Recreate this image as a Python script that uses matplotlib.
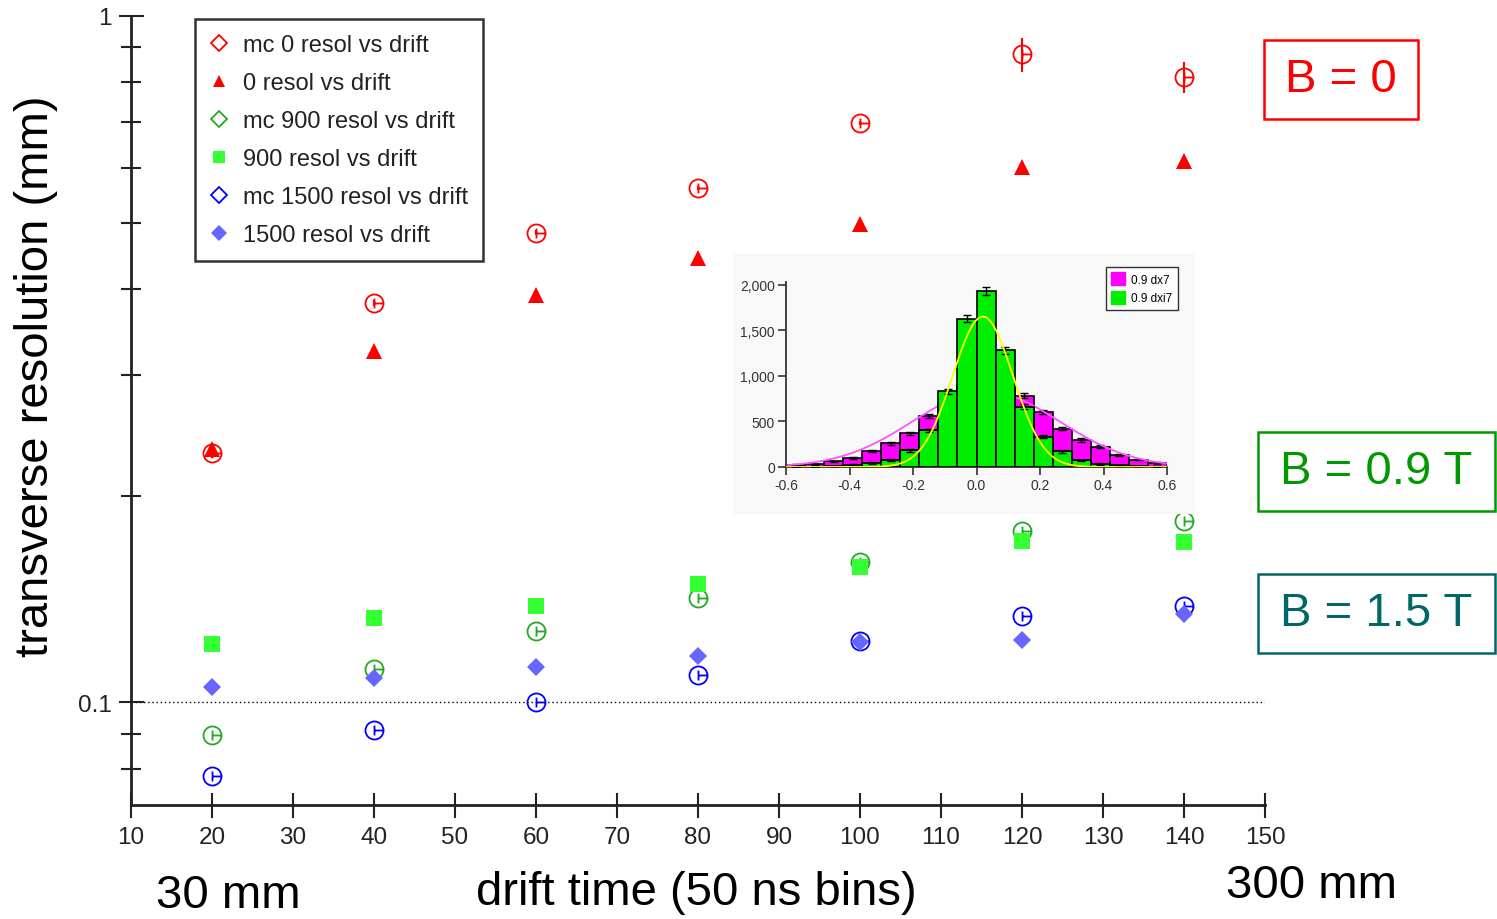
import numpy as np
import matplotlib
matplotlib.use("Agg")
import matplotlib.pyplot as plt
from matplotlib.path import Path
from matplotlib.lines import Line2D
from matplotlib.patches import Rectangle, Patch
from matplotlib.ticker import FixedLocator, FuncFormatter, NullFormatter

plt.rcParams['font.family'] = ['Liberation Sans', 'DejaVu Sans']

# resolution (mm) vs drift time bin, for B = 0, 0.9 T, 1.5 T
drift = [20, 40, 60, 80, 100, 120, 140]
mc_0 = [0.231, 0.382, 0.483, 0.562, 0.698, 0.880, 0.815]
mc_0_err = [0.004, 0.004, 0.004, 0.004, 0.004, 0.050, 0.042]
res_0 = [0.234, 0.325, 0.392, 0.444, 0.497, 0.602, 0.615]
mc_900 = [0.0895, 0.1117, 0.1269, 0.1418, 0.160, 0.1776, 0.1836]
res_900 = [0.1215, 0.1325, 0.138, 0.1486, 0.1573, 0.1716, 0.171]
mc_1500 = [0.0780, 0.0910, 0.100, 0.1095, 0.1227, 0.1335, 0.138]
res_1500 = [0.1051, 0.1084, 0.1124, 0.1167, 0.1223, 0.1231, 0.1343]

# residual histograms (counts per 0.06 bin from -0.6 to 0.6)
dx7 = [25, 28, 62, 102, 175, 263, 370, 557, 700, 900, 1000, 900, 782, 605, 422, 297, 222, 135, 82, 45]
dxi7 = [3, 5, 10, 25, 44, 80, 183, 402, 830, 1627, 1927, 1280, 662, 333, 172, 73, 33, 18, 11, 5]
# gaussian fits: amplitude, mean, sigma
fit_dx7 = (830, 0.03, 0.23)
fit_dxi7 = (1650, 0.02, 0.095)

W, H = 1497, 920
fig = plt.figure(figsize=(W / 100, H / 100), dpi=100)


def fx(px):
    return px / W


def fy(py):
    return 1 - py / H


# circle with a cross-bar, used for the mc points
circ = Path.circle((0, 0), 1.0)
bar_v = Path([(0, -0.55), (0, 0.55)], [Path.MOVETO, Path.LINETO])
bar_h = Path([(0, 0), (1, 0)], [Path.MOVETO, Path.LINETO])
mc_marker = Path.make_compound_path(circ, bar_v, bar_h)

ax = fig.add_axes([fx(131), fy(806), fx(1265 - 131), (806 - 17) / H])
ax.set_yscale('log')
ax.set_xlim(10, 150)
ax.set_ylim(0.0708, 1.0)

ax.axhline(0.1, color='black', lw=1.0, ls=(0, (1, 2)), zorder=1)

ax.errorbar(drift, mc_0, yerr=mc_0_err, fmt='none', ecolor='#ff0000', elinewidth=1.5, zorder=3)
ax.plot(drift, mc_0, ls='none', marker=mc_marker, ms=13, mfc='none', mec='#ff0000', mew=1.3, zorder=3)
ax.plot(drift, res_0, ls='none', marker='^', ms=12, color='#ff0000', mew=0, zorder=4)
ax.plot(drift, mc_900, ls='none', marker=mc_marker, ms=13, mfc='none', mec='#22aa22', mew=1.3, zorder=5)
ax.plot(drift, res_900, ls='none', marker='s', ms=11, color='#33ff33', mew=0, zorder=6)
ax.plot(drift, mc_1500, ls='none', marker=mc_marker, ms=13, mfc='none', mec='#0000ff', mew=1.3, zorder=7)
ax.plot(drift, res_1500, ls='none', marker='D', ms=9, color='#6666ff', mew=0, zorder=8)

for s in ['top', 'right']:
    ax.spines[s].set_visible(False)
for s in ['left', 'bottom']:
    ax.spines[s].set_color('#222222')
    ax.spines[s].set_linewidth(2)

ax.xaxis.set_major_locator(FixedLocator(list(range(10, 151, 10))))
ax.yaxis.set_major_locator(FixedLocator([0.1, 1.0]))
ax.yaxis.set_minor_locator(FixedLocator([0.08, 0.09, 0.2, 0.3, 0.4, 0.5, 0.6, 0.7, 0.8, 0.9]))
ax.yaxis.set_major_formatter(FuncFormatter(lambda v, p: '1' if v >= 1 else '0.1'))
ax.yaxis.set_minor_formatter(NullFormatter())
ax.tick_params(axis='both', which='both', direction='inout', colors='#222222',
               labelcolor='#222222', labelsize=17.5, width=1.5)
ax.tick_params(axis='x', which='major', length=18, pad=6)
ax.tick_params(axis='y', which='major', length=18, pad=5)
ax.tick_params(axis='y', which='minor', length=14)

handles = [
    Line2D([], [], ls='none', marker='D', ms=8, mfc='none', mec='#ff0000', mew=1.3),
    Line2D([], [], ls='none', marker='^', ms=8, color='#ff0000', mew=0),
    Line2D([], [], ls='none', marker='D', ms=8, mfc='none', mec='#22aa22', mew=1.3),
    Line2D([], [], ls='none', marker='s', ms=9, color='#33ff33', mew=0),
    Line2D([], [], ls='none', marker='D', ms=8, mfc='none', mec='#0000ff', mew=1.3),
    Line2D([], [], ls='none', marker='D', ms=8, color='#6666ff', mew=0),
]
labels = ['mc 0 resol vs drift', '0 resol vs drift', 'mc 900 resol vs drift',
          '900 resol vs drift', 'mc 1500 resol vs drift', '1500 resol vs drift']
leg = ax.legend(handles, labels, loc='upper left', bbox_to_anchor=(fx(195), fy(20)),
                bbox_transform=fig.transFigure, fontsize=17, frameon=True, fancybox=False,
                edgecolor='black', borderpad=0.63, labelspacing=0.68, handlelength=0.8,
                handletextpad=0.6, borderaxespad=0)
leg.get_frame().set_linewidth(1.8)
for t in leg.get_texts():
    t.set_color('#222222')

# light panel behind the inset histogram
fig.patches.append(Rectangle((fx(733), fy(515)), fx(462), 260 / H, transform=fig.transFigure,
                             facecolor='#f8f8f8', edgecolor='none', zorder=1))

ins = fig.add_axes([fx(786), fy(468), fx(1167 - 786), (468 - 283) / H])
ins.set_zorder(2)
ins.patch.set_visible(False)
edges = np.round(np.linspace(-0.6, 0.6, 21), 2)
centers = (edges[:-1] + edges[1:]) / 2
width = edges[1] - edges[0]
ins.bar(centers, dx7, width=width, color='#ff00ff', edgecolor='black', lw=1.2, zorder=1)
ins.errorbar(centers, dx7, yerr=np.sqrt(dx7), fmt='none', ecolor='black', elinewidth=1,
             capsize=3, zorder=2)
xs = np.linspace(-0.6, 0.6, 300)
A, mu, sg = fit_dx7
ins.plot(xs, A * np.exp(-0.5 * ((xs - mu) / sg) ** 2), color='#ff55ff', lw=1.3, zorder=2.5)
ins.bar(centers, dxi7, width=width, color='#00ee00', edgecolor='black', lw=1.2, zorder=3)
ins.errorbar(centers, dxi7, yerr=np.sqrt(dxi7), fmt='none', ecolor='black', elinewidth=1,
             capsize=3, zorder=4)
A, mu, sg = fit_dxi7
ins.plot(xs, A * np.exp(-0.5 * ((xs - mu) / sg) ** 2), color='#ffff00', lw=1.3, zorder=5)

ins.set_xlim(-0.6, 0.6)
ins.set_ylim(0, 2030)
ins.set_xticks([-0.6, -0.4, -0.2, 0.0, 0.2, 0.4, 0.6])
ins.set_yticks([0, 500, 1000, 1500, 2000])
ins.xaxis.set_major_formatter(FuncFormatter(lambda v, p: f'{v:.1f}'))
ins.yaxis.set_major_formatter(FuncFormatter(lambda v, p: f'{v:,.0f}'))
for s in ['top', 'right']:
    ins.spines[s].set_visible(False)
for s in ['left', 'bottom']:
    ins.spines[s].set_linewidth(1.3)
    ins.spines[s].set_color('#333333')
ins.tick_params(direction='out', length=6, width=1.2, labelsize=10, colors='#333333', pad=2)
ileg = ins.legend([Patch(color='#ff00ff'), Patch(color='#00ee00')], ['0.9 dx7', '0.9 dxi7'],
                  loc='upper left', bbox_to_anchor=(fx(1106), fy(268)), bbox_transform=fig.transFigure,
                  fontsize=8.5, fancybox=False, edgecolor='black', borderaxespad=0,
                  handlelength=1.2, handleheight=1.3, handletextpad=0.5, borderpad=0.45,
                  labelspacing=0.45)
ileg.get_frame().set_linewidth(1.0)

# field labels in boxes
boxes = [
    ('B = 0', '#ff0000', 1264, 41, 154, 79),
    ('B = 0.9 T', '#009900', 1258, 433, 237, 79),
    ('B = 1.5 T', '#006666', 1258, 575, 237, 79),
]
for txt, col, x0, y0, bw, bh in boxes:
    fig.patches.append(Rectangle((fx(x0), fy(y0 + bh)), fx(bw), bh / H, transform=fig.transFigure,
                                 facecolor='none', edgecolor=col, lw=1.8, zorder=3))
    fig.text(fx(x0 + bw / 2), fy(y0 + bh / 2), txt, color=col, fontsize=34,
             ha='center', va='center')

fig.text(fx(36), fy(376), 'transverse resolution (mm)', rotation=90, fontsize=34,
         ha='center', va='center')
fig.text(fx(696), fy(893), 'drift time (50 ns bins)', fontsize=34, ha='center', va='center')
fig.text(fx(228), fy(896), '30 mm', fontsize=34, ha='center', va='center')
fig.text(fx(1311), fy(886), '300 mm', fontsize=34, ha='center', va='center')

fig.savefig('out.png', dpi=100)
